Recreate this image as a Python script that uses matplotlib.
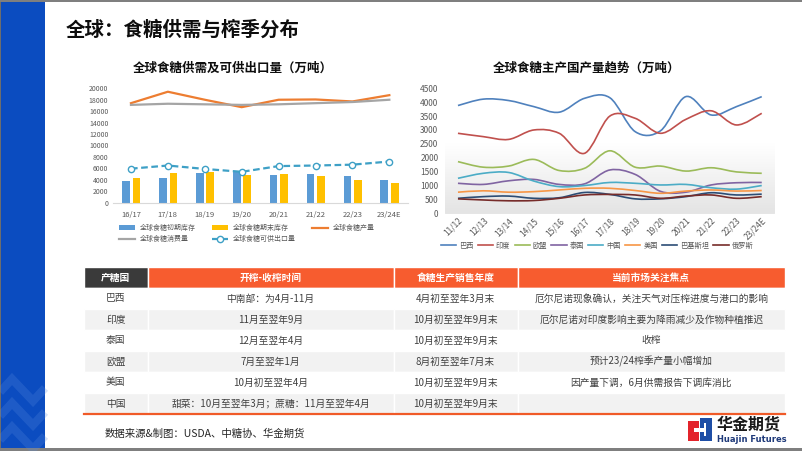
import numpy as np
import matplotlib
matplotlib.use('Agg')
import matplotlib.pyplot as plt
from matplotlib.path import Path
from matplotlib.patches import PathPatch, Rectangle, Patch
from matplotlib.lines import Line2D
from matplotlib.colors import LinearSegmentedColormap

plt.rcParams['font.family'] = ['Noto Sans CJK SC', 'DejaVu Sans']

# ---------------- data: left chart ----------------
seasons_left = ['16/17', '17/18', '18/19', '19/20', '20/21', '21/22', '22/23', '23/24E']
begin_stock = [3800, 4250, 5200, 5500, 4800, 5000, 4750, 3900]
end_stock = [4250, 5200, 5300, 4800, 5050, 4700, 3950, 3400]
production = [17400, 19400, 18000, 16700, 18000, 18050, 17700, 18800]
consumption = [17100, 17300, 17200, 17100, 17200, 17400, 17600, 18000]
export_avail = [5950, 6500, 5900, 5400, 6400, 6500, 6650, 7200]
left_names = ['全球食糖初期库存', '全球食糖期末库存', '全球食糖产量', '全球食糖消费量', '全球食糖可供出口量']

# ---------------- data: right chart ----------------
seasons_right = ['11/12', '12/13', '13/14', '14/15', '15/16', '16/17', '17/18',
                 '18/19', '19/20', '20/21', '21/22', '22/23', '23/24E']
brazil = [3880, 4110, 4060, 3840, 3640, 4140, 4160, 2940, 2970, 4200, 3540, 3840, 4200]
india = [2880, 2760, 2660, 3000, 2880, 2160, 3500, 3420, 2880, 3380, 3690, 3180, 3600]
eu = [1860, 1660, 1700, 1940, 1540, 1620, 2250, 1660, 1700, 1520, 1640, 1490, 1440]
thailand = [1080, 1040, 1170, 1220, 1040, 1060, 1560, 1400, 790, 760, 1020, 1100, 1110]
china = [1260, 1440, 1470, 1160, 960, 1000, 1110, 1080, 1020, 1040, 920, 870, 1000]
usa = [760, 810, 760, 780, 840, 900, 900, 820, 720, 800, 840, 800, 820]
pakistan = [540, 600, 620, 540, 560, 750, 680, 520, 520, 600, 740, 660, 690]
russia = [520, 480, 450, 460, 540, 660, 680, 660, 540, 620, 660, 540, 600]
right_names = ['巴西', '印度', '欧盟', '泰国', '中国', '美国', '巴基斯坦', '俄罗斯']
right_series = [brazil, india, eu, thailand, china, usa, pakistan, russia]
right_colors = ['#4F81BD', '#C0504D', '#9BBB59', '#8064A2', '#4BACC6', '#F79646', '#2C4D75', '#772C2A']

# ---------------- data: table ----------------
table_header = ['产糖国', '开榨-收榨时间', '食糖生产销售年度', '当前市场关注焦点']
tbl_country = ['巴西', '印度', '泰国', '欧盟', '美国', '中国']
tbl_crush = ['中南部：为4月-11月', '11月至翌年9月', '12月至翌年4月', '7月至翌年1月',
             '10月初至翌年4月', '甜菜：10月至翌年3月；蔗糖：11月至翌年4月']
tbl_year = ['4月初至翌年3月末', '10月初至翌年9月末', '10月初至翌年9月末', '8月初至翌年7月末',
            '10月初至翌年9月末', '10月初至翌年9月末']
tbl_focus = ['厄尔尼诺现象确认，关注天气对压榨进度与港口的影响',
             '厄尔尼诺对印度影响主要为降雨减少及作物种植推迟',
             '收榨', '预计23/24榨季产量小幅增加', '因产量下调，6月供需报告下调库消比', '']

W, H = 802, 451
fig = plt.figure(figsize=(W / 100, H / 100), dpi=100)


def rect_px(l, t, r, b):
    return [l / W, 1 - b / H, (r - l) / W, (b - t) / H]


# ---------------- background / decoration ----------------
bg = fig.add_axes([0, 0, 1, 1], zorder=0)
bg.set_xlim(0, W)
bg.set_ylim(H, 0)
bg.axis('off')
bg.add_patch(Rectangle((0, 0), 45, H, color='#0B4CC0', lw=0))
for k in range(3):
    d = 24 * k
    bg.plot([0, 12, 33, 45], [392 + d, 379 + d, 401 + d, 388 + d], color='#5A8BDD',
            lw=6, alpha=0.25, solid_capstyle='butt', solid_joinstyle='miter')
bg.add_patch(Rectangle((0, 0), 1.2, H, color='#6D6D6D', lw=0))
bg.add_patch(Rectangle((0, 0), W, 1.5, color='#7F7F7F', lw=0))
bg.add_patch(Rectangle((0, 447.5), W, 3.5, color='#7F7F7F', lw=0))

bg.text(66, 30, '全球：食糖供需与榨季分布', fontsize=14, fontweight='bold',
        color='#0D0D0D', va='center', ha='left')
bg.text(233, 68, '全球食糖供需及可供出口量（万吨）', fontsize=9, fontweight='bold',
        color='#0D0D0D', va='center', ha='center')
bg.text(587, 68, '全球食糖主产国产量趋势（万吨）', fontsize=9, fontweight='bold',
        color='#0D0D0D', va='center', ha='center')

# ---------------- table ----------------
col_edges = [84, 147.5, 393.5, 517.5, 785]
head_top, head_bot = 267, 288
row_h = 21
for j in range(4):
    fc = '#3A3A3A' if j == 0 else '#F75C2F'
    bg.add_patch(Rectangle((col_edges[j], head_top), col_edges[j + 1] - col_edges[j],
                           head_bot - head_top, facecolor=fc, edgecolor='white', lw=1))
    bg.text((col_edges[j] + col_edges[j + 1]) / 2, (head_top + head_bot) / 2, table_header[j],
            color='white', fontsize=7, fontweight='bold', ha='center', va='center')
rows = list(zip(tbl_country, tbl_crush, tbl_year, tbl_focus))
for i, row in enumerate(rows):
    top = head_bot + i * row_h
    fc = '#F2F2F2' if i % 2 == 1 else 'white'
    for j in range(4):
        bg.add_patch(Rectangle((col_edges[j], top), col_edges[j + 1] - col_edges[j], row_h,
                               facecolor=fc, edgecolor='white', lw=1))
        if row[j]:
            bg.text((col_edges[j] + col_edges[j + 1]) / 2, top + row_h / 2, row[j],
                    color='#404040', fontsize=7, ha='center', va='center')
bg.plot([col_edges[0], col_edges[-1]], [head_bot + 6 * row_h, head_bot + 6 * row_h],
        color='#F05A28', lw=1.6)

bg.text(105, 434, '数据来源&制图：USDA、中糖协、华金期货', fontsize=7.5, color='#262626',
        ha='left', va='center')

# logo
bg.add_patch(Rectangle((688, 421), 11, 20, color='#E3242B', lw=0))
bg.add_patch(Rectangle((700, 418), 12, 23, color='#1E4EA6', lw=0))
bg.add_patch(Rectangle((694, 428), 12, 4, color='white', lw=0))
bg.add_patch(Rectangle((703.5, 423), 2.5, 13, color='white', lw=0))
bg.text(717, 424.5, '华金期货', fontsize=11.5, fontweight='bold', color='#1A1A1A',
        ha='left', va='center')
bg.text(717, 440, 'Huajin Futures', fontsize=6, fontweight='bold', color='#1F3A7A',
        ha='left', va='center', family=['DejaVu Sans'])

# ---------------- left chart ----------------
ax1 = fig.add_axes(rect_px(112.5, 88.3, 407.8, 202.7), zorder=2)
ax1.set_facecolor('none')
x = np.arange(len(seasons_left))
bw = 0.21
b1 = ax1.bar(x - 0.135, begin_stock, width=bw, color='#5B9BD5', zorder=2)
b2 = ax1.bar(x + 0.15, end_stock, width=bw, color='#FFC000', zorder=2)
l1, = ax1.plot(x, production, color='#ED7D31', lw=1.6, zorder=3)
l2, = ax1.plot(x, consumption, color='#A5A5A5', lw=1.6, zorder=3)
l3, = ax1.plot(x, export_avail, color='#3EA0C6', lw=1.6, ls=(0, (3, 1.6)), marker='o',
               ms=4.5, mfc='white', mec='#3EA0C6', mew=1, zorder=4)
ax1.set_xlim(-0.5, len(seasons_left) - 0.5)
ax1.set_ylim(0, 20000)
ax1.set_yticks(np.arange(0, 20001, 2000))
ax1.set_xticks(x)
ax1.set_xticklabels(seasons_left)
ax1.tick_params(axis='y', length=0, labelsize=5, labelcolor='#595959', pad=3)
ax1.tick_params(axis='x', length=0, labelsize=5.5, labelcolor='#595959', pad=6)
for s in ['top', 'right', 'left']:
    ax1.spines[s].set_visible(False)
ax1.spines['bottom'].set_color('#D9D9D9')
ax1.spines['bottom'].set_linewidth(0.8)
bar_h1 = Patch(facecolor='#5B9BD5')
bar_h2 = Patch(facecolor='#FFC000')
handles = [bar_h1, l2, bar_h2, l3, l1]
labels = [left_names[0], left_names[3], left_names[1], left_names[4], left_names[2]]
ax1.legend(handles, labels, loc='upper left', bbox_to_anchor=(119 / W, 1 - 224 / H),
           bbox_transform=fig.transFigure, ncol=3, frameon=False, fontsize=5,
           handlelength=2.3, handleheight=0.6, handletextpad=0.7, columnspacing=2.3,
           labelspacing=0.45, borderpad=0, borderaxespad=0, labelcolor='#595959')

# ---------------- right chart ----------------
ax2 = fig.add_axes(rect_px(445.3, 88.3, 774.4, 213.3), zorder=2)
xr = np.arange(len(seasons_right))
ax2.set_xlim(-0.5, len(seasons_right) - 0.5)
ax2.set_ylim(0, 4500)
cmap = LinearSegmentedColormap.from_list('g', [(0, '#FFFFFF'), (0.45, '#FFFFFF'), (1, '#E4E4E4')])
ax2.imshow(np.linspace(0, 1, 256).reshape(-1, 1), cmap=cmap, aspect='auto', origin='upper',
           extent=[-0.5, len(seasons_right) - 0.5, 0, 4500], zorder=0)


def smooth_path(xs, ys):
    n = len(xs)
    pts = list(zip(xs, ys))
    verts = [pts[0]]
    codes = [Path.MOVETO]
    for i in range(n - 1):
        p0 = pts[i - 1] if i > 0 else pts[i]
        p1 = pts[i]
        p2 = pts[i + 1]
        p3 = pts[i + 2] if i + 2 < n else p2
        c1 = (p1[0] + (p2[0] - p0[0]) / 6, p1[1] + (p2[1] - p0[1]) / 6)
        c2 = (p2[0] - (p3[0] - p1[0]) / 6, p2[1] - (p3[1] - p1[1]) / 6)
        verts += [c1, c2, p2]
        codes += [Path.CURVE4] * 3
    return Path(verts, codes)


leg_handles = []
for name, ser, col in zip(right_names, right_series, right_colors):
    ax2.add_patch(PathPatch(smooth_path(xr, ser), fill=False, edgecolor=col, lw=1.2, zorder=3))
    leg_handles.append(Line2D([], [], color=col, lw=1.2))
ax2.set_yticks(np.arange(0, 4501, 500))
ax2.set_xticks(xr)
ax2.set_xticklabels(seasons_right, rotation=45, ha='right', va='top', rotation_mode='anchor')
ax2.tick_params(axis='y', length=0, labelsize=6, labelcolor='#595959', pad=5)
ax2.tick_params(axis='x', length=0, labelsize=6, labelcolor='#595959', pad=2)
for s in ['top', 'right', 'left']:
    ax2.spines[s].set_visible(False)
ax2.spines['bottom'].set_color('#E0E0E0')
ax2.spines['bottom'].set_linewidth(0.6)
ax2.legend(leg_handles, right_names, loc='center', bbox_to_anchor=(597 / W, 1 - 245.7 / H),
           bbox_transform=fig.transFigure, ncol=8, frameon=False, fontsize=5.2,
           handlelength=2.1, handletextpad=0.4, columnspacing=0.6, borderpad=0,
           borderaxespad=0, labelcolor='#595959')

fig.savefig('out.png', dpi=100)
